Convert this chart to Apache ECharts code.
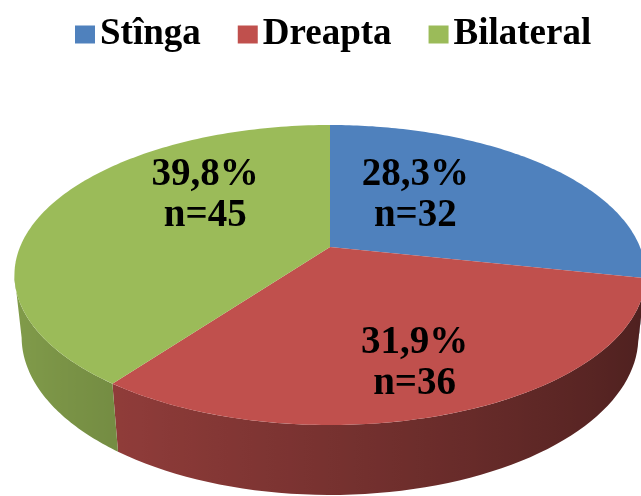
<!DOCTYPE html>
<html>
<head>
<meta charset="utf-8">
<script src="https://cdn.jsdelivr.net/npm/echarts@6/dist/echarts.min.js"></script>
<style>
  html, body { margin: 0; padding: 0; background: #fff; }
  #main { width: 641px; height: 496px; }
</style>
</head>
<body>
<div id="main"></div>
<script>
// data
var categories = ['Stînga', 'Dreapta', 'Bilateral'];
var counts = [32, 36, 45];

// styles / layout
var colors = ['#4F81BD', '#C0504D', '#9BBB59'];
var labelPlace = [[0.37, -19], [0.68, 12], [0.435, -32]]; // [radius fraction, y shift]

// 3d view of the pie (perspective, tilted ~28 deg)
var CX = 330, CY = 247, SCALE = 310;
var SIN_P = 0.467, COS_P = 0.884, U = 0.1867, RD = 0.2112, THICK = 0.228;
var VIS0 = Math.acos(-U), VIS1 = 2 * Math.PI - VIS0;

function project(theta, r, depth) {
    var c = Math.cos(theta), s = Math.sin(theta);
    var h = THICK * depth;
    var den = 1 + U * r * c + h * SIN_P * RD;
    return [CX + SCALE * r * s / den, CY - SCALE * (r * c * SIN_P - h * COS_P) / den];
}

function shade(hex, k) {
    var n = parseInt(hex.slice(1), 16);
    var r = Math.round(((n >> 16) & 255) * k);
    var g = Math.round(((n >> 8) & 255) * k);
    var b = Math.round((n & 255) * k);
    return 'rgb(' + r + ',' + g + ',' + b + ')';
}

var total = counts.reduce(function (a, b) { return a + b; }, 0);

function sliceRenderer(i) {
    return function (params, api) {
        var before = 0;
        for (var j = 0; j < i; j++) before += counts[j];
        var start = before / total * 2 * Math.PI;
        var end = (before + api.value(0)) / total * 2 * Math.PI;
        var color = colors[i];
        var children = [];

        // side wall (front part only)
        var a0 = Math.max(start, VIS0), a1 = Math.min(end, VIS1);
        if (a1 > a0) {
            var steps = 60, pts = [], t;
            for (var s = 0; s <= steps; s++) {
                t = a0 + (a1 - a0) * s / steps;
                pts.push(project(t, 1, 0));
            }
            for (s = steps; s >= 0; s--) {
                t = a0 + (a1 - a0) * s / steps;
                pts.push(project(t, 1, 1));
            }
            var xR = project(a0, 1, 0)[0], xL = project(a1, 1, 0)[0];
            var stops = [];
            for (s = steps; s >= 0; s--) {
                t = a0 + (a1 - a0) * s / steps;
                var x = project(t, 1, 0)[0];
                var k = 0.62 - 0.222 * Math.sin(t);
                stops.push({ offset: Math.min(1, Math.max(0, (x - xL) / (xR - xL || 1))), color: shade(color, k) });
            }
            children.push({
                type: 'polygon',
                shape: { points: pts },
                style: {
                    fill: { type: 'linear', x: xL, y: 0, x2: xR, y2: 0, global: true, colorStops: stops }
                }
            });
        }

        // top face
        var top = [project(0, 0, 0)];
        var n = 120;
        for (var m = 0; m <= n; m++) {
            top.push(project(start + (end - start) * m / n, 1, 0));
        }
        children.push({ type: 'polygon', shape: { points: top }, style: { fill: color } });

        // label
        var mid = (start + end) / 2;
        var lp = project(mid, labelPlace[i][0], 0);
        var pct = (api.value(0) / total * 100).toFixed(1).replace('.', ',');
        children.push({
            type: 'text',
            x: lp[0],
            y: lp[1] + labelPlace[i][1],
            style: {
                text: pct + '%\nn=' + api.value(0),
                fontFamily: 'Liberation Serif',
                fontWeight: 'bold',
                fontSize: 39,
                lineHeight: 41,
                fill: '#000',
                align: 'center',
                verticalAlign: 'middle'
            }
        });
        return { type: 'group', children: children };
    };
}

var chart = echarts.init(document.getElementById('main'));
var option = {
    backgroundColor: '#fff',
    animation: false,
    legend: {
        data: categories,
        left: 70,
        top: 11,
        icon: 'rect',
        itemWidth: 20,
        itemHeight: 18,
        itemGap: 37,
        selectedMode: false,
        textStyle: {
            fontFamily: 'Liberation Serif',
            fontWeight: 'bold',
            fontSize: 37,
            lineHeight: 36,
            color: '#000'
        }
    },
    series: categories.map(function (name, i) {
        return {
            type: 'custom',
            name: name,
            coordinateSystem: 'none',
            itemStyle: { color: colors[i] },
            renderItem: sliceRenderer(i),
            data: [counts[i]]
        };
    })
};
chart.setOption(option);
</script>
</body>
</html>
